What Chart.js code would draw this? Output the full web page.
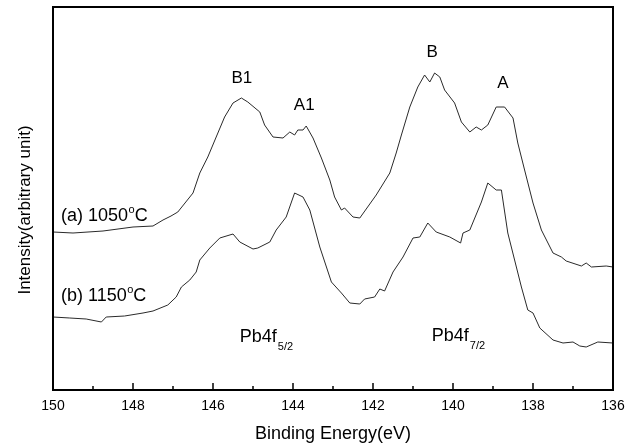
<!DOCTYPE html>
<html>
<head>
<meta charset="utf-8">
<script src="https://cdn.jsdelivr.net/npm/chart.js@4.4.0/dist/chart.umd.min.js"></script>
<style>
  body { margin: 0; background: #fff; }
  #wrap { width: 633px; height: 448px; }
</style>
</head>
<body>
<div id="wrap"><canvas id="xps" width="633" height="448"></canvas></div>
<script>
// (a) 1050 C spectrum
const energyA = [150.00,149.50,148.75,148.00,147.50,147.25,147.05,146.88,146.50,146.33,146.13,145.92,145.71,145.50,145.29,145.13,144.83,144.71,144.50,144.25,144.08,143.96,143.88,143.75,143.67,143.50,143.29,143.08,142.96,142.79,142.71,142.50,142.33,141.92,141.58,141.42,141.29,141.08,140.88,140.71,140.58,140.46,140.33,140.21,139.96,139.79,139.58,139.42,139.29,139.13,138.92,138.71,138.50,138.38,138.21,138.00,137.79,137.50,137.29,137.17,136.79,136.67,136.54,136.17,136.00];
const intensityA = [158,157,159,163,164,170,174,178,197,217,233,253,273,287,292,288,278,265,253,252,258,255,260,260,264,252,232,210,193,180,182,173,172,195,217,237,255,283,303,315,308,317,313,300,287,268,258,263,260,265,283,283,272,247,220,187,160,137,133,129,124,127,123,124,123];

// (b) 1150 C spectrum
const energyB = [150.00,149.58,149.17,148.79,148.67,148.21,147.75,147.50,147.13,146.92,146.79,146.58,146.42,146.33,146.08,145.83,145.50,145.33,145.00,144.88,144.58,144.42,144.17,143.96,143.75,143.58,143.33,143.04,142.79,142.58,142.33,142.21,141.96,141.83,141.71,141.50,141.25,141.00,140.83,140.63,140.42,140.08,139.81,139.75,139.58,139.29,139.13,138.92,138.79,138.63,138.46,138.29,138.13,138.00,137.83,137.50,137.25,137.00,136.83,136.67,136.38,136.00];
const intensityB = [73,72,71,68,73,74,77,79,85,93,103,110,118,130,142,152,156,148,141,142,148,160,173,197,193,180,143,108,97,87,86,91,93,101,99,118,133,152,153,167,158,153,147,157,160,188,207,200,200,157,130,103,80,77,62,50,47,48,44,43,48,47];

// peak labels (data coords)
const peakLabels = ['B1', 'A1', 'B', 'A'];
const peakX = [145.28, 143.72, 140.52, 138.75];
const peakY = [307, 280, 333, 302];

// sample labels
const sampleLabels = ['(a) 1050', '(b) 1150'];
const sampleY = [169, 89];

// orbital labels
const orbitalSubs = ['5/2', '7/2'];
const orbitalX = [145.33, 140.53];
const orbitalY = [48, 49];

const FONT = "'Liberation Sans', Arial, sans-serif";
Chart.defaults.font.family = FONT;

const toPts = (xs, ys) => xs.map((x, i) => ({ x: x, y: ys[i] }));

const decor = {
  id: 'decor',
  afterDraw(chart) {
    const ctx = chart.ctx;
    const xs = chart.scales.x, ys = chart.scales.y;
    const a = chart.chartArea;
    ctx.save();
    ctx.strokeStyle = '#000';
    ctx.fillStyle = '#000';

    // frame
    ctx.lineWidth = 2;
    ctx.strokeRect(a.left, a.top, a.right - a.left, a.bottom - a.top);

    // inward ticks on bottom axis
    ctx.lineWidth = 1.5;
    for (let v = 136; v <= 150; v++) {
      const px = xs.getPixelForValue(v);
      const len = v % 2 === 0 ? 7 : 4;
      ctx.beginPath();
      ctx.moveTo(px, a.bottom);
      ctx.lineTo(px, a.bottom - len);
      ctx.stroke();
    }

    // y title
    ctx.save();
    ctx.translate(25, 210);
    ctx.rotate(-Math.PI / 2);
    ctx.font = '17px ' + FONT;
    ctx.textAlign = 'center';
    ctx.textBaseline = 'middle';
    ctx.fillText('Intensity(arbitrary unit)', 0, 0);
    ctx.restore();

    // peak labels
    ctx.font = '17px ' + FONT;
    ctx.textAlign = 'center';
    ctx.textBaseline = 'alphabetic';
    peakLabels.forEach((t, i) => {
      ctx.fillText(t, xs.getPixelForValue(peakX[i]), ys.getPixelForValue(peakY[i]));
    });

    // sample labels with superscript o
    ctx.textAlign = 'left';
    sampleLabels.forEach((t, i) => {
      let x = xs.getPixelForValue(149.8);
      const y = ys.getPixelForValue(sampleY[i]);
      ctx.font = '18px ' + FONT;
      ctx.fillText(t, x, y);
      x += ctx.measureText(t).width + 0.5;
      ctx.font = '11px ' + FONT;
      ctx.fillText('o', x, y - 8);
      x += ctx.measureText('o').width;
      ctx.font = '18px ' + FONT;
      ctx.fillText('C', x, y);
    });

    // Pb4f labels with subscript
    orbitalSubs.forEach((s, i) => {
      let x = xs.getPixelForValue(orbitalX[i]);
      const y = ys.getPixelForValue(orbitalY[i]);
      ctx.font = '18px ' + FONT;
      ctx.fillText('Pb4f', x, y);
      x += ctx.measureText('Pb4f').width + 1;
      ctx.font = '11px ' + FONT;
      ctx.fillText(s, x, y + 8);
    });

    ctx.restore();
  }
};

new Chart(document.getElementById('xps'), {
  type: 'scatter',
  data: {
    datasets: [
      { label: '(a) 1050 C', data: toPts(energyA, intensityA) },
      { label: '(b) 1150 C', data: toPts(energyB, intensityB) }
    ].map(d => Object.assign(d, {
      showLine: true, borderColor: '#2a2a2a', borderWidth: 1,
      pointRadius: 0, tension: 0, fill: false
    }))
  },
  options: {
    responsive: false,
    animation: false,
    devicePixelRatio: 1,
    layout: { padding: { left: 53, right: 20, top: 7, bottom: 0 } },
    plugins: { legend: { display: false }, tooltip: { enabled: false } },
    scales: {
      x: {
        type: 'linear', reverse: true, min: 136, max: 150,
        afterFit: s => { s.height = 58; },
        grid: { display: false, drawTicks: false },
        border: { display: false },
        ticks: { stepSize: 2, color: '#000', font: { size: 14 }, padding: 8, maxRotation: 0, autoSkip: false },
        title: { display: true, text: 'Binding Energy(eV)', color: '#000', font: { size: 18 }, padding: { top: 0, bottom: 3 } }
      },
      y: { min: 0, max: 383, display: false }
    }
  },
  plugins: [decor]
});
</script>
</body>
</html>
